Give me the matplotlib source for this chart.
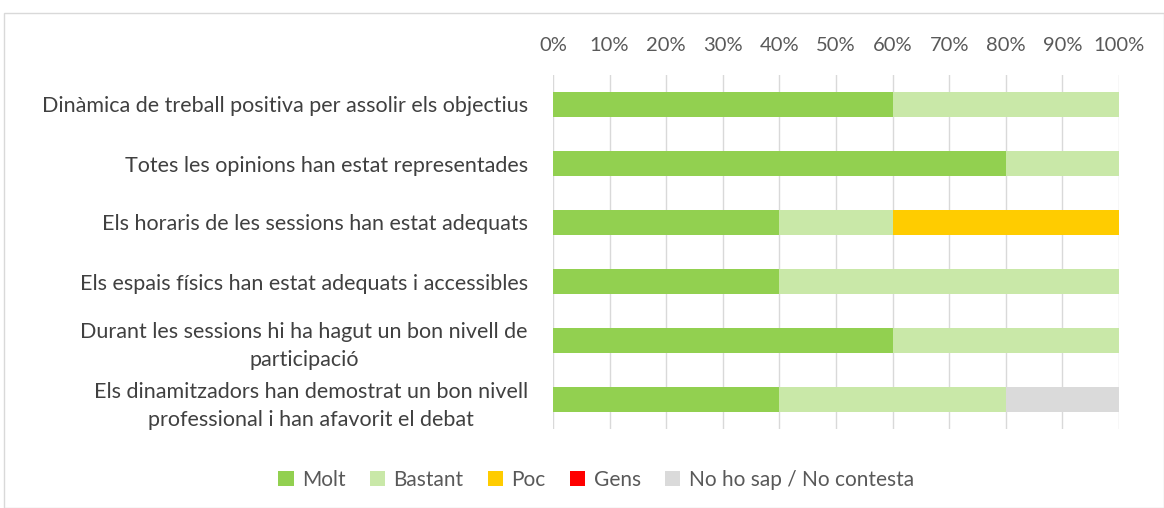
import matplotlib.pyplot as plt
from matplotlib.patches import Rectangle
import numpy as np

categories = [
    "Dinàmica de treball positiva per assolir els objectius",
    "Totes les opinions han estat representades",
    "Els horaris de les sessions han estat adequats",
    "Els espais físics han estat adequats i accessibles",
    "Durant les sessions hi ha hagut un bon nivell de\nparticipació",
    "Els dinamitzadors han demostrat un bon nivell\nprofessional i han afavorit el debat",
]
series = ["Molt", "Bastant", "Poc", "Gens", "No ho sap / No contesta"]
molt = [60, 80, 40, 40, 60, 40]
bastant = [40, 20, 20, 60, 40, 40]
poc = [0, 0, 40, 0, 0, 0]
gens = [0, 0, 0, 0, 0, 0]
nsnc = [0, 0, 0, 0, 0, 20]
colors = ["#92D050", "#C9E8A8", "#FFCC00", "#FF0000", "#DADADA"]

plt.rcParams['font.family'] = ['Lato', 'DejaVu Sans']

fig = plt.figure(figsize=(11.64, 5.08), dpi=100)
ax = fig.add_axes([553/1164, 1-429/508, 566/1164, 354/508])

fig.patches.append(Rectangle((4/1164, 0), 1160/1164, 1-13/508, transform=fig.transFigure,
                             fill=False, edgecolor="#D9D9D9", linewidth=1))

y = np.arange(len(categories))
left = np.zeros(len(categories))
for name, vals, c in zip(series, [molt, bastant, poc, gens, nsnc], colors):
    ax.barh(y, vals, left=left, height=0.41, color=c, label=name, zorder=3)
    left += np.array(vals)

ax.set_xlim(0, 100)
ax.set_ylim(len(categories) - 0.5, -0.5)
ax.set_xticks(np.arange(0, 101, 10))
ax.set_xticklabels([f"{v}%" for v in range(0, 101, 10)])
ax.xaxis.tick_top()
ax.tick_params(axis='x', length=0, pad=15, labelsize=14.5, labelcolor="#595959")
ax.set_yticks(y)
ax.set_yticklabels(categories, multialignment='center', linespacing=1.5)
ax.tick_params(axis='y', length=0, pad=18, labelsize=15.5, labelcolor="#404040")
ax.grid(axis='x', color="#D9D9D9", linewidth=1, zorder=0)
for s in ax.spines.values():
    s.set_visible(False)

ax.legend(loc='center', bbox_to_anchor=(596/1164, 1-480/508), bbox_transform=fig.transFigure,
          ncol=5, frameon=False, fontsize=15, handlelength=0.75, handleheight=0.75,
          handletextpad=0.4, columnspacing=1.15, labelcolor="#595959")

fig.savefig("out.png", dpi=100)
